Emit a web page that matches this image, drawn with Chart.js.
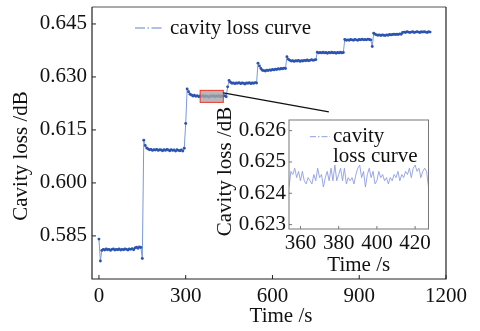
<!DOCTYPE html>
<html>
<head>
<meta charset="utf-8">
<script src="https://cdn.jsdelivr.net/npm/chart.js@4.4.1/dist/chart.umd.min.js"></script>
<style>
  html, body { margin: 0; padding: 0; background: #fff; }
  #wrap { position: relative; width: 480px; height: 331px; }
  #main { position: absolute; left: 0; top: 0; width: 480px; height: 331px; }
  #inset { position: absolute; left: 200px; top: 100px; width: 250px; height: 190px; }
</style>
</head>
<body>
<div id="wrap">
  <canvas id="main" width="480" height="331"></canvas>
  <canvas id="inset" width="250" height="190"></canvas>
</div>
<script>
// main curve, one reading every 5 s starting at t = 0
const mainStart = 0;
const mainStep = 5;
const lossMain = [
  0.5841, 0.5779, 0.5809, 0.5812, 0.5810, 0.5813, 0.5811, 0.5812, 0.5809, 0.5812,
  0.5813, 0.5810, 0.5812, 0.5811, 0.5813, 0.5810, 0.5812, 0.5811, 0.5813, 0.5812,
  0.5810, 0.5813, 0.5812, 0.5814, 0.5811, 0.5816, 0.5818, 0.5815, 0.5819, 0.5817,
  0.5786,
  0.6121, 0.6106, 0.6099, 0.6096, 0.6094, 0.6095, 0.6092, 0.6094, 0.6093, 0.6095,
  0.6092, 0.6094, 0.6093, 0.6091, 0.6094, 0.6092, 0.6095, 0.6093, 0.6091, 0.6094,
  0.6092, 0.6093, 0.6090, 0.6094, 0.6092, 0.6091, 0.6093, 0.6090, 0.6098, 0.6168,
  0.6266, 0.6258, 0.6251, 0.6249, 0.6246, 0.6248, 0.6245, 0.6247, 0.6244, 0.6246,
  0.6245, 0.6247, 0.6244, 0.6246, 0.6245, 0.6243, 0.6246, 0.6245, 0.6247, 0.6244,
  0.6246, 0.6245, 0.6247, 0.6244, 0.6246, 0.6245, 0.6247, 0.6244, 0.6272,
  0.6290, 0.6285, 0.6282, 0.6283, 0.6281, 0.6283, 0.6282, 0.6284, 0.6281, 0.6283,
  0.6282, 0.6280, 0.6283, 0.6282, 0.6284, 0.6281, 0.6283, 0.6282, 0.6284, 0.6283,
  0.6339, 0.6331, 0.6324, 0.6319, 0.6318, 0.6317, 0.6319, 0.6318, 0.6320, 0.6319,
  0.6321, 0.6320, 0.6322, 0.6321, 0.6323, 0.6322, 0.6324, 0.6323, 0.6325, 0.6324,
  0.6357, 0.6350, 0.6347, 0.6345, 0.6346, 0.6344, 0.6346, 0.6345, 0.6347, 0.6344,
  0.6346, 0.6345, 0.6347, 0.6346, 0.6348, 0.6346, 0.6347, 0.6349, 0.6347, 0.6348, 0.6349,
  0.6370, 0.6368, 0.6369, 0.6368, 0.6370, 0.6368, 0.6369, 0.6367, 0.6369, 0.6368,
  0.6370, 0.6368, 0.6369, 0.6367, 0.6369, 0.6368, 0.6370, 0.6368, 0.6369,
  0.6406, 0.6404, 0.6405, 0.6404, 0.6406, 0.6405, 0.6404, 0.6406, 0.6405, 0.6404,
  0.6406, 0.6405, 0.6407, 0.6405, 0.6406, 0.6405, 0.6407, 0.6406, 0.6405, 0.6386,
  0.6424, 0.6421, 0.6419, 0.6418, 0.6419, 0.6417, 0.6419, 0.6418, 0.6417, 0.6419,
  0.6418, 0.6420, 0.6419, 0.6420, 0.6421, 0.6420, 0.6421, 0.6420, 0.6422, 0.6421,
  0.6426, 0.6427, 0.6426, 0.6428, 0.6427, 0.6426, 0.6427, 0.6428, 0.6426, 0.6427,
  0.6428, 0.6427, 0.6426, 0.6428, 0.6427, 0.6428, 0.6427, 0.6426, 0.6428, 0.6427
];

// zoomed part, one reading per second from t = 354
const zoomStart = 354;
const zoomStep = 1;
const lossZoom = [
  0.6242, 0.6247, 0.6246, 0.6248, 0.6245, 0.6247, 0.6244, 0.6247, 0.6244, 0.6243,
  0.6245, 0.6244, 0.6243, 0.6246, 0.6244, 0.6248, 0.6245, 0.6246, 0.6242, 0.6245,
  0.6247, 0.6244, 0.6248, 0.6244, 0.6249, 0.6244, 0.6246, 0.6248, 0.6244, 0.6248,
  0.6243, 0.6245, 0.6244, 0.6245, 0.6243, 0.6246, 0.6248, 0.6249, 0.6245, 0.6247,
  0.6242, 0.6246, 0.6248, 0.6245, 0.6247, 0.6243, 0.6244, 0.6247, 0.6245, 0.6246,
  0.6244, 0.6245, 0.6243, 0.6245, 0.6244, 0.6246, 0.6245, 0.6247, 0.6244, 0.6246,
  0.6245, 0.6247, 0.6246, 0.6248, 0.6245, 0.6248, 0.6249, 0.6247, 0.6248, 0.6245,
  0.6247, 0.6248, 0.6247, 0.6242
];

const xTicksMain = [0, 300, 600, 900, 1200];
const yTicksMain = [0.585, 0.600, 0.615, 0.630, 0.645];
const xTicksZoom = [360, 380, 400, 420];
const yTicksZoom = [0.623, 0.624, 0.625, 0.626];
const seriesName = 'cavity loss curve';
const seriesNameZoom = ['cavity', 'loss curve'];
const xTitle = 'Time /s';
const yTitle = 'Cavity loss /dB';

const serif = "'Liberation Serif', 'Times New Roman', serif";

function toPoints(start, step, vals) {
  return vals.map((v, i) => ({ x: start + i * step, y: v }));
}

function drawTitles(ctx, a, xOff, xGap, yGap, yOff) {
  ctx.fillStyle = '#111';
  ctx.font = '21px ' + serif;
  ctx.textAlign = 'center';
  ctx.textBaseline = 'middle';
  ctx.fillText(xTitle, (a.left + a.right) / 2 + xOff, a.bottom + xGap);
  ctx.save();
  ctx.translate(a.left - yGap, (a.top + a.bottom) / 2 + yOff);
  ctx.rotate(-Math.PI / 2);
  ctx.fillText(yTitle, 0, 0);
  ctx.restore();
}

function drawInTicks(ctx, chart, len) {
  const { chartArea: a, scales: { x, y } } = chart;
  ctx.beginPath();
  x.ticks.forEach(t => {
    const px = x.getPixelForValue(t.value);
    ctx.moveTo(px, a.bottom);
    ctx.lineTo(px, a.bottom - len);
  });
  y.ticks.forEach(t => {
    const py = y.getPixelForValue(t.value);
    ctx.moveTo(a.left, py);
    ctx.lineTo(a.left + len, py);
  });
  ctx.stroke();
}

const mainDecor = {
  id: 'mainDecor',
  afterDatasetsDraw(chart) {
    const { ctx, chartArea: a, scales: { x, y } } = chart;
    ctx.save();
    // zoom box
    const bx0 = x.getPixelForValue(350), bx1 = x.getPixelForValue(430);
    const by0 = y.getPixelForValue(0.6262), by1 = y.getPixelForValue(0.6228);
    ctx.fillStyle = 'rgba(165,165,165,0.8)';
    ctx.fillRect(bx0, by0, bx1 - bx0, by1 - by0);
    ctx.strokeStyle = '#e8362c';
    ctx.lineWidth = 1;
    ctx.strokeRect(bx0, by0, bx1 - bx0, by1 - by0);
    // connector line
    ctx.beginPath();
    ctx.moveTo(bx1, y.getPixelForValue(0.6255));
    ctx.lineTo(x.getPixelForValue(795), y.getPixelForValue(0.6201));
    ctx.strokeStyle = '#111';
    ctx.lineWidth = 1.4;
    ctx.stroke();

    // frame
    ctx.lineWidth = 1.2;
    ctx.strokeStyle = '#555';
    ctx.beginPath();
    ctx.moveTo(a.left, a.top); ctx.lineTo(a.right, a.top);
    ctx.stroke();
    ctx.strokeStyle = '#222';
    ctx.beginPath();
    ctx.moveTo(a.right, a.top); ctx.lineTo(a.right, a.bottom);
    ctx.lineTo(a.left, a.bottom); ctx.lineTo(a.left, a.top);
    ctx.stroke();
    ctx.lineWidth = 1;
    drawInTicks(ctx, chart, 4);

    // legend
    ctx.strokeStyle = '#5f80d4';
    ctx.lineWidth = 1;
    ctx.setLineDash([10, 2.5, 1.5, 2.5]);
    ctx.beginPath();
    ctx.moveTo(a.left + 43, a.top + 21);
    ctx.lineTo(a.left + 70, a.top + 21);
    ctx.stroke();
    ctx.setLineDash([]);
    ctx.fillStyle = '#111';
    ctx.font = '21px ' + serif;
    ctx.textAlign = 'left';
    ctx.textBaseline = 'alphabetic';
    ctx.fillText(seriesName, a.left + 78, a.top + 27);

    drawTitles(ctx, a, 12, 37, 71, 13);
    ctx.restore();
  }
};

const insetDecor = {
  id: 'insetDecor',
  afterDatasetsDraw(chart) {
    const { ctx, chartArea: a } = chart;
    ctx.save();
    ctx.strokeStyle = '#777';
    ctx.lineWidth = 1;
    ctx.strokeRect(a.left, a.top, a.right - a.left, a.bottom - a.top);
    drawInTicks(ctx, chart, 3);

    ctx.strokeStyle = '#8e9de6';
    ctx.setLineDash([6, 2, 1.5, 2]);
    ctx.beginPath();
    ctx.moveTo(a.left + 21, a.top + 16.7);
    ctx.lineTo(a.left + 41, a.top + 16.7);
    ctx.stroke();
    ctx.setLineDash([]);
    ctx.fillStyle = '#111';
    ctx.font = '21px ' + serif;
    ctx.textAlign = 'left';
    ctx.textBaseline = 'alphabetic';
    ctx.fillText(seriesNameZoom[0], a.left + 44, a.top + 21.7);
    ctx.fillText(seriesNameZoom[1], a.left + 44, a.top + 41.7);

    drawTitles(ctx, a, 0, 36, 64, -3);
    ctx.restore();
  }
};

function axis(min, max, ticks, fmt, pad, fitFn) {
  return {
    type: 'linear', min: min, max: max,
    grid: { display: false, drawTicks: false },
    border: { display: false },
    afterBuildTicks: s => { s.ticks = ticks.map(v => ({ value: v })); },
    afterFit: fitFn,
    ticks: {
      font: { family: serif, size: 21 }, color: '#111', padding: pad,
      maxRotation: 0, autoSkip: false, callback: fmt
    }
  };
}

new Chart(document.getElementById('main'), {
  type: 'line',
  data: {
    datasets: [{
      label: seriesName,
      data: toPoints(mainStart, mainStep, lossMain),
      borderColor: '#7b97dc',
      borderWidth: 1,
      pointRadius: 1.45,
      pointBackgroundColor: '#2b54b0',
      pointBorderWidth: 0,
      tension: 0
    }]
  },
  options: {
    responsive: false,
    animation: false,
    layout: { padding: { left: 0, top: 7, right: 34, bottom: 0 } },
    plugins: { legend: { display: false }, tooltip: { enabled: false } },
    scales: {
      x: axis(-24, 1200, xTicksMain, v => String(v), 5,
        s => { s.height = 52; s.paddingLeft = 0; s.paddingRight = 0; }),
      y: axis(0.5728, 0.6498, yTicksMain, v => v.toFixed(3), 5,
        s => { s.width = 92; s.paddingTop = 0; s.paddingBottom = 0; })
    }
  },
  plugins: [mainDecor]
});

new Chart(document.getElementById('inset'), {
  type: 'line',
  data: {
    datasets: [{
      label: seriesNameZoom.join(' '),
      data: toPoints(zoomStart, zoomStep, lossZoom),
      borderColor: '#8e9de6',
      borderWidth: 0.9,
      pointRadius: 0,
      tension: 0
    }]
  },
  options: {
    responsive: false,
    animation: false,
    layout: { padding: { left: 0, top: 20, right: 21.5, bottom: 0 } },
    plugins: { legend: { display: false }, tooltip: { enabled: false } },
    scales: {
      x: axis(354, 427, xTicksZoom, v => String(v), 1.5,
        s => { s.height = 61; s.paddingLeft = 0; s.paddingRight = 0; }),
      y: axis(0.62286, 0.62634, yTicksZoom, v => v.toFixed(3), 3,
        s => { s.width = 89; s.paddingTop = 0; s.paddingBottom = 0; })
    }
  },
  plugins: [insetDecor]
});
</script>
</body>
</html>
